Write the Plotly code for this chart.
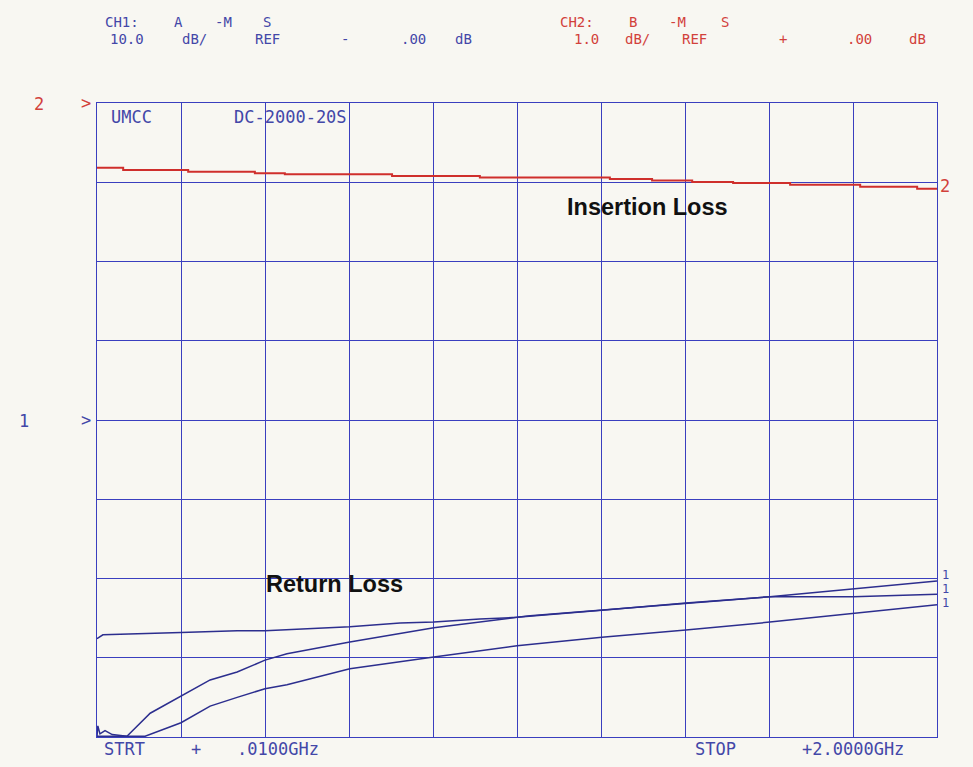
import plotly.graph_objects as go

# ---------------- data ----------------
# Insertion loss (channel 2, 1 dB/div, REF 0 dB at top line)
il_freq_ghz = [0.010, 0.072, 0.226, 0.384, 0.455, 0.709, 0.917, 1.225, 1.325,
               1.420, 1.517, 1.652, 1.818, 1.953, 2.000]
il_db = [-0.816, -0.845, -0.867, -0.887, -0.900, -0.921, -0.940, -0.959, -0.978,
         -0.997, -1.010, -1.030, -1.056, -1.081, -1.085]

# Return loss traces (channel 1, 10 dB/div, REF 0 dB at marker "1")
rl_a_freq = [0.010, 0.024, 0.209, 0.342, 0.408, 0.444, 0.609, 0.728, 0.808, 0.917,
             1.005, 1.036, 1.206, 1.405, 1.604, 1.801, 2.000]
rl_a_db = [-27.6, -27.1, -26.8, -26.6, -26.6, -26.5, -26.1, -25.6, -25.5, -25.1,
           -24.9, -24.7, -24.0, -23.1, -22.3, -22.3, -22.0]

rl_b_freq = [0.010, 0.012, 0.017, 0.029, 0.046, 0.081, 0.136, 0.209, 0.278, 0.342,
             0.408, 0.460, 0.609, 0.808, 0.917, 1.005, 1.206, 1.405, 1.604, 1.801,
             1.912, 2.000]
rl_b_db = [-39.9, -38.6, -39.6, -39.2, -39.7, -39.9, -37.0, -34.8, -32.8, -31.8,
           -30.3, -29.5, -28.0, -26.2, -25.5, -24.9, -24.0, -23.1, -22.3, -21.3,
           -20.8, -20.3]

rl_c_freq = [0.010, 0.124, 0.209, 0.278, 0.342, 0.408, 0.460, 0.609, 0.808, 1.005,
             1.206, 1.405, 1.604, 1.801, 2.000]
rl_c_db = [-39.9, -39.9, -38.2, -36.1, -35.0, -33.9, -33.4, -31.4, -29.9, -28.5,
           -27.4, -26.5, -25.5, -24.4, -23.3]

# ---------------- styling ----------------
PAGE_W, PAGE_H = 973, 767
OFF = 8                      # browser body margin
W, H = PAGE_W - 2 * OFF, PAGE_H - 2 * OFF
X0, X1, Y0, Y1 = 97, 937, 103, 737   # plot area in page pixels
L, T = X0 - OFF, Y0 - OFF
R, B = (OFF + W) - X1, (OFF + H) - Y1
PW, PH = X1 - X0, Y1 - Y0

BG = "#f8f7f2"
GRID = "#3a3fbf"
TRACE_BLUE = "#2c2e8e"
TEXT_BLUE = "#4347a8"
RED = "#cf2f2c"
TEXT_RED = "#d2413b"
PLOT_FONT = "DejaVu Sans Mono"


def px(x):
    return (x - X0) / PW


def py(y):
    return (Y1 - y) / PH


fig = go.Figure()

for fx, fy, nm in [(rl_a_freq, rl_a_db, "RL A"), (rl_b_freq, rl_b_db, "RL B"),
                   (rl_c_freq, rl_c_db, "RL C")]:
    fig.add_trace(go.Scatter(x=fx, y=fy, mode="lines", name=nm,
                             line=dict(color=TRACE_BLUE, width=1.5),
                             yaxis="y", showlegend=False))

fig.add_trace(go.Scatter(x=il_freq_ghz, y=il_db, mode="lines", name="Insertion Loss",
                         line=dict(color=RED, width=2, shape="hv"),
                         yaxis="y2", showlegend=False))

axis_common = dict(showgrid=True, gridcolor=GRID, gridwidth=1.3, showline=True,
                   linecolor=GRID, linewidth=1.3, mirror=True, zeroline=False,
                   showticklabels=False, ticks="", fixedrange=True)

fig.update_layout(
    width=W, height=H, autosize=False,
    margin=dict(l=L, r=R, t=T, b=B, pad=0),
    paper_bgcolor=BG, plot_bgcolor=BG,
    xaxis=dict(range=[0.01, 2.0], tick0=0.01, dtick=0.199, **axis_common),
    yaxis=dict(range=[-40, 40], tick0=0, dtick=10, **axis_common),
    yaxis2=dict(range=[-8, 0], overlaying="y", visible=False, fixedrange=True),
    showlegend=False,
)

ann = []


def txt(x, y, s, color, size=15, family=PLOT_FONT, anchor="center", bold=False):
    ann.append(dict(x=px(x), y=py(y), xref="paper", yref="paper", text=s,
                    showarrow=False, xanchor=anchor, yanchor="middle",
                    font=dict(family=family, size=size, color=color,
                              weight="bold" if bold else "normal")))


# channel 1 header
for x, s in [(122, "CH1:"), (178, "A"), (223, "-M"), (267, "S")]:
    txt(x, 22, s, TEXT_BLUE, size=14)
for x, s in [(127, "10.0"), (194, "dB/"), (267, "REF"), (345, "-"), (413, ".00"), (463, "dB")]:
    txt(x, 39, s, TEXT_BLUE, size=14)
# channel 2 header
for x, s in [(577, "CH2:"), (633, "B"), (677, "-M"), (725, "S")]:
    txt(x, 22, s, TEXT_RED, size=14)
for x, s in [(586, "1.0"), (637, "dB/"), (694, "REF"), (783, "+"), (859, ".00"), (917, "dB")]:
    txt(x, 39, s, TEXT_RED, size=14)

# reference markers
txt(39, 104, "2", TEXT_RED, size=17)
txt(86, 103, ">", TEXT_RED, size=17)
txt(24, 421, "1", TEXT_BLUE, size=17)
txt(86, 420, ">", TEXT_BLUE, size=17)

# title cells
txt(131, 117, "UMCC", TEXT_BLUE, size=17)
txt(290, 117, "DC-2000-20S", TEXT_BLUE, size=17)

# trace end labels
txt(945, 186, "2", TEXT_RED, size=17)
txt(945, 575, "1", TEXT_BLUE, size=12)
txt(945, 589, "1", TEXT_BLUE, size=12)
txt(945, 603, "1", TEXT_BLUE, size=12)

# start / stop
for x, s in [(124, "STRT"), (196, "+"), (278, ".0100GHz")]:
    txt(x, 749, s, TEXT_BLUE, size=17)
for x, s in [(715, "STOP"), (853, "+2.0000GHz")]:
    txt(x, 749, s, TEXT_BLUE, size=17)

# annotations
txt(647, 207, "Insertion Loss", "#111111", size=23.5, family="Liberation Sans", bold=True)
txt(334, 584, "Return Loss", "#111111", size=23.5, family="Liberation Sans", bold=True)

fig.update_layout(annotations=ann)

fig.write_html("out.html", config={"displayModeBar": False},
               post_script="document.body.style.background='%s';" % BG)
